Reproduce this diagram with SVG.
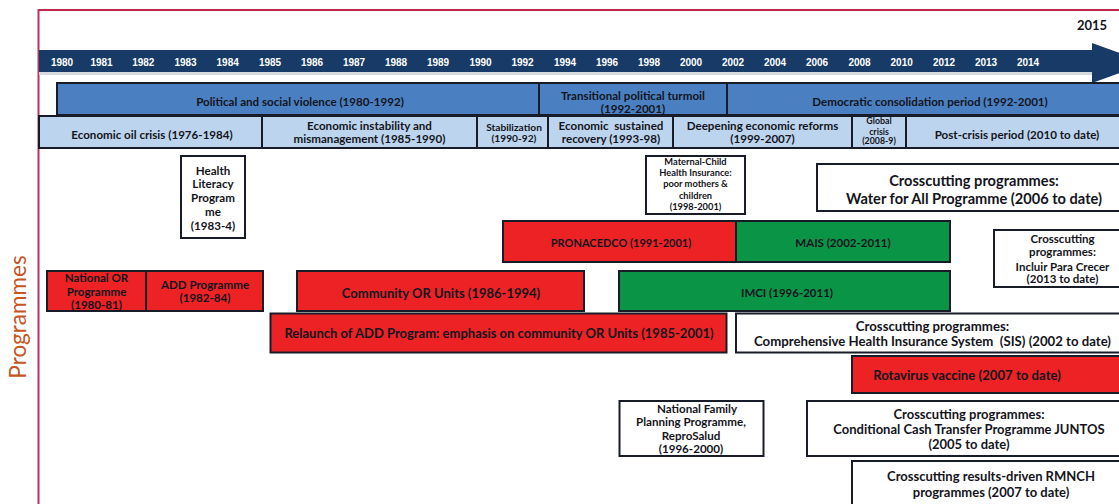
<svg xmlns="http://www.w3.org/2000/svg" width="1119" height="504" viewBox="0 0 1119 504">
<style>
.yr{font-family:"Liberation Sans",Arial,sans-serif;font-weight:bold;font-size:10px;fill:#ffffff;text-anchor:middle}
.t{font-family:Lato,"Liberation Sans",sans-serif;font-weight:bold;fill:#141420;text-anchor:middle;white-space:pre}
.box{stroke:#181c28;stroke-width:2}
.red{fill:#ED2224}
.grn{fill:#0A9446}
.wht{fill:#ffffff}
.pol{fill:#4A80C2}
.eco{fill:#BDD4EE}
.sg{font-size:8.8px}.ss{font-size:10.2px}.sm{font-size:9.3px}.sa{font-size:11.6px}.sp{font-size:11px}.sb{font-size:11.5px}.sc{font-size:13px}.sr{font-size:13.2px}.sw{font-size:14.6px}
</style>
<rect width="1119" height="504" fill="#ffffff"/>
<g id="frame">
<line x1="38.5" y1="10" x2="1125" y2="10" stroke="#C0284F" stroke-width="2"/>
<line x1="38.5" y1="9" x2="38.5" y2="504" stroke="#B8345A" stroke-width="2"/>
<text x="0" y="0" transform="translate(26,317) rotate(-90)" font-family="Lato,'Liberation Sans',sans-serif" font-size="22.5" fill="#C4561E" text-anchor="middle">Programmes</text>
</g>
<g id="timeline">
<rect x="39" y="72" width="1060" height="3" fill="#d6d9de"/>
<polygon points="39,50 1092,50 1092,43 1148,63 1092,83 1092,72 39,72" fill="#173B66"/>
<text class="yr" x="62" y="66">1980</text>
<text class="yr" x="101.5" y="66">1981</text>
<text class="yr" x="143.3" y="66">1982</text>
<text class="yr" x="185.5" y="66">1983</text>
<text class="yr" x="227.7" y="66">1984</text>
<text class="yr" x="270" y="66">1985</text>
<text class="yr" x="312" y="66">1986</text>
<text class="yr" x="354" y="66">1987</text>
<text class="yr" x="396" y="66">1988</text>
<text class="yr" x="438" y="66">1989</text>
<text class="yr" x="480.5" y="66">1990</text>
<text class="yr" x="522.5" y="66">1992</text>
<text class="yr" x="565" y="66">1994</text>
<text class="yr" x="607" y="66">1996</text>
<text class="yr" x="649" y="66">1998</text>
<text class="yr" x="691" y="66">2000</text>
<text class="yr" x="733" y="66">2002</text>
<text class="yr" x="775" y="66">2004</text>
<text class="yr" x="817" y="66">2006</text>
<text class="yr" x="859.5" y="66">2008</text>
<text class="yr" x="901.7" y="66">2010</text>
<text class="yr" x="944" y="66">2012</text>
<text class="yr" x="986" y="66">2013</text>
<text class="yr" x="1028" y="66">2014</text>
<text class="t sc" x="1092" y="30" fill="#000">2015</text>
</g>
<g id="pol-violence"><rect class="box pol" x="57" y="83" width="482" height="32"/><text class="t sa" x="300" y="105.7">Political and social violence (1980-1992)</text></g>
<g id="pol-transition"><rect class="box pol" x="539" y="83" width="188" height="32"/><text class="t sa" x="633" y="99.8">Transitional political turmoil</text><text class="t sa" x="633" y="113">(1992-2001)</text></g>
<g id="pol-democratic"><rect class="box pol" x="727" y="83" width="400" height="32"/><text class="t sa" x="930" y="105.7">Democratic consolidation period (1992-2001)</text></g>
<g id="eco-oil"><rect class="box eco" x="39" y="116" width="223" height="32"/><text class="t sa" x="152" y="138.7">Economic oil crisis (1976-1984)</text></g>
<g id="eco-instability"><rect class="box eco" x="262" y="116" width="215" height="32"/><text class="t sa" x="369.5" y="130.3">Economic instability and</text><text class="t sa" x="369.5" y="143.3">mismanagement (1985-1990)</text></g>
<g id="eco-stabilization"><rect class="box eco" x="477" y="116" width="71" height="32"/><text class="t ss" x="514" y="130.6">Stabilization</text><text class="t ss" x="514" y="142.3">(1990-92)</text></g>
<g id="eco-recovery"><rect class="box eco" x="548" y="116" width="125" height="32"/><text class="t sa" x="611" y="130.3">Economic  sustained</text><text class="t sa" x="611" y="143.3">recovery (1993-98)</text></g>
<g id="eco-reforms"><rect class="box eco" x="673" y="116" width="179" height="32"/><text class="t sa" x="762.5" y="130.3">Deepening economic reforms</text><text class="t sa" x="762.5" y="143.3">(1999-2007)</text></g>
<g id="eco-global"><rect class="box eco" x="852" y="116" width="54" height="32"/><text class="t sg" x="879" y="123.8">Global</text><text class="t sg" x="879" y="134.6">crisis</text><text class="t sg" x="879" y="144">(2008-9)</text></g>
<g id="eco-postcrisis"><rect class="box eco" x="906" y="116" width="220" height="32"/><text class="t sa" x="1017" y="138.7">Post-crisis period (2010 to date)</text></g>
<g id="health-literacy"><rect class="box wht" x="181" y="156" width="64" height="82"/>
<text class="t sa" x="213" y="174.7">Health</text><text class="t sa" x="213" y="188">Literacy</text><text class="t sa" x="213" y="202.3">Program</text><text class="t sa" x="213" y="215.7">me</text><text class="t sa" x="213" y="229.7">(1983-4)</text></g>
<g id="maternal-child"><rect class="box wht" x="646" y="156" width="99" height="58"/>
<text class="t sm" x="695.5" y="165">Maternal-Child</text><text class="t sm" x="695.5" y="176.2">Health Insurance:</text><text class="t sm" x="695.5" y="187.4">poor mothers &amp;</text><text class="t sm" x="695.5" y="198.6">children</text><text class="t sm" x="695.5" y="209.8">(1998-2001)</text></g>
<g id="water"><rect class="box wht" x="817" y="164" width="310" height="47"/>
<text class="t sw" x="974" y="186">Crosscutting programmes:</text><text class="t sw" x="974" y="204">Water for All Programme (2006 to date)</text></g>
<g id="pronacedco"><rect class="box red" x="503" y="221" width="233" height="41"/><text class="t sp" x="621" y="247.3">PRONACEDCO (1991-2001)</text></g>
<g id="mais"><rect class="box grn" x="736" y="221" width="214" height="41"/><text class="t sb" x="843" y="247.3">MAIS (2002-2011)</text></g>
<g id="incluir"><rect class="box wht" x="994" y="230" width="132" height="57"/>
<text class="t sb" x="1062.5" y="243.3">Crosscutting</text><text class="t sb" x="1062.5" y="256.3">programmes:</text><text class="t sb" x="1062.5" y="270.7">Incluir Para Crecer</text><text class="t sb" x="1062.5" y="283.3">(2013 to date)</text></g>
<g id="national-or"><rect class="box red" x="47" y="271" width="99" height="40"/>
<text class="t sa" x="96.5" y="282.3">National OR</text><text class="t sa" x="96.5" y="295.7">Programme</text><text class="t sa" x="96.5" y="309">(1980-81)</text></g>
<g id="add-programme"><rect class="box red" x="146" y="271" width="117" height="40"/>
<text class="t sa" x="205" y="289">ADD Programme</text><text class="t sa" x="205" y="302.3">(1982-84)</text></g>
<g id="community-or"><rect class="box red" x="297" y="271" width="287" height="40"/><text class="t sc" x="441" y="297.8">Community OR Units (1986-1994)</text></g>
<g id="imci"><rect class="box grn" x="619" y="271" width="331" height="40"/><text class="t sb" x="787" y="297.4">IMCI (1996-2011)</text></g>
<g id="relaunch-add"><rect class="box red" x="270.5" y="313.5" width="456" height="39"/><text class="t sc" x="499" y="337.8">Relaunch of ADD Program: emphasis on community OR Units (1985-2001)</text></g>
<g id="sis"><rect class="box wht" x="736" y="313.5" width="390" height="39"/>
<text class="t sr" x="932.5" y="331.3">Crosscutting programmes:</text><text class="t sr" x="932.5" y="346.3">Comprehensive Health Insurance System  (SIS) (2002 to date)</text></g>
<g id="rotavirus"><rect class="box red" x="852" y="356" width="274" height="37"/><text class="t sr" x="967" y="379.6">Rotavirus vaccine (2007 to date)</text></g>
<g id="family-planning"><rect class="box wht" x="619.5" y="401" width="144" height="55"/>
<text class="t sa" x="697" y="413">National Family</text><text class="t sa" x="691" y="425.7">Planning Programme,</text><text class="t sa" x="691" y="440">ReproSalud</text><text class="t sa" x="691" y="453">(1996-2000)</text></g>
<g id="juntos"><rect class="box wht" x="807" y="401" width="319" height="55"/>
<text class="t sc" x="969" y="418.5">Crosscutting programmes:</text><text class="t sc" x="969" y="433.5">Conditional Cash Transfer Programme JUNTOS</text><text class="t sc" x="969" y="448.8">(2005 to date)</text></g>
<g id="rmnch"><rect class="box wht" x="852" y="461" width="274" height="50"/>
<text class="t sc" x="991" y="481.2">Crosscutting results-driven RMNCH</text><text class="t sc" x="991" y="496.8">programmes (2007 to date)</text></g>
<g id="connectors"></g>
</svg>
